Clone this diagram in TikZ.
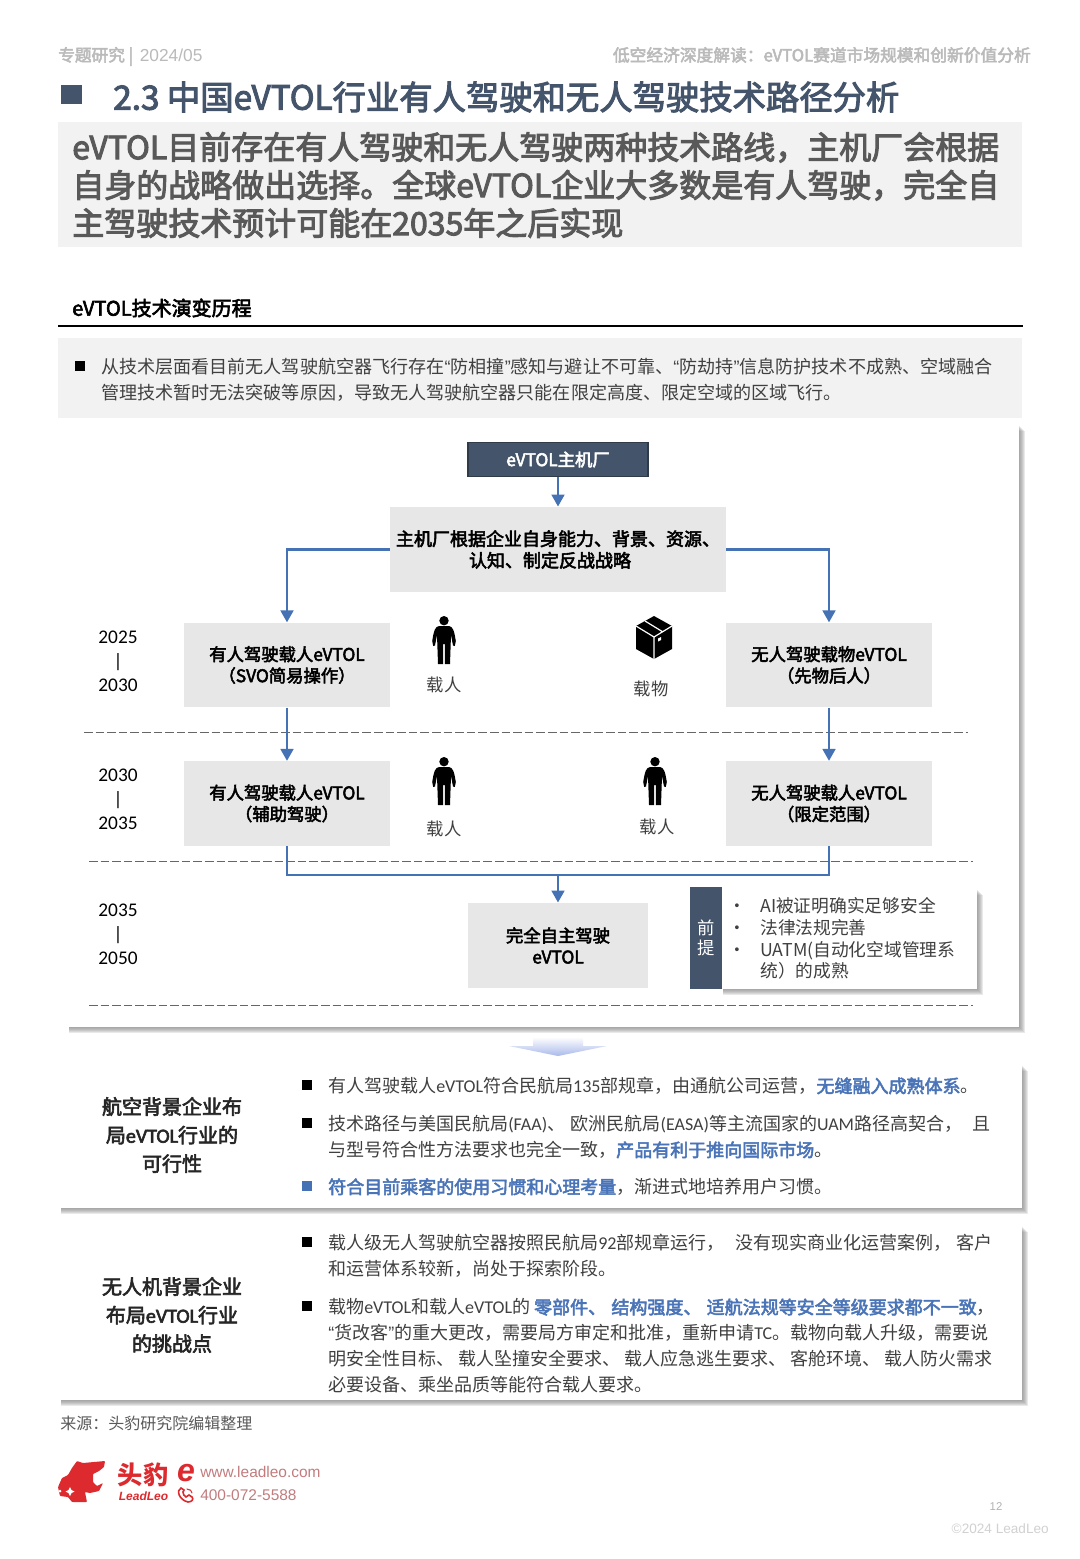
\documentclass[tikz,border=0pt]{standalone}
\usepackage{fontspec}
\setmainfont{Noto Sans CJK SC}
\newfontfamily\medfont[FakeBold=3]{Noto Sans CJK SC}
\newfontfamily\yearfont{Carlito}
\newfontfamily\sidelatin[FakeBold=3]{Carlito}
\newfontfamily\webfont{Liberation Sans}
\usepackage{tikz}
\usetikzlibrary{arrows.meta, positioning}

\definecolor{slatenavy}{HTML}{44546A}
\definecolor{flowblue}{HTML}{4472B4}
\definecolor{boxgray}{HTML}{E7E7E7}
\definecolor{panelgray}{HTML}{F2F2F2}
\definecolor{bodygray}{HTML}{404040}
\definecolor{keyblue}{HTML}{4A74B8}
\definecolor{arrowblue}{HTML}{A9B9EA}
\definecolor{logored}{HTML}{DC2A2E}
\definecolor{webred}{HTML}{C27C7E}

\newcommand{\keytxt}[1]{\textcolor{keyblue}{\medfont #1}}
\newcommand{\narrowq}[1]{{\webfont #1}}
\newcommand{\lat}[1]{{\yearfont #1}}
\newcommand{\softpanel}[4]{%
	\foreach \o in {6,5,4,3,2,1} {
		\fill[gray, opacity=0.17] (#1+1,#2+\o) rectangle (#3+\o,#4+\o);
	}
	\fill[white] (#1,#2) rectangle (#3,#4);
}

\tikzset{
	flowbox/.style={fill=boxgray, inner sep=0pt, align=center, text=black,
		font=\fontsize{13}{16}\selectfont\medfont},
	flowline/.style={draw=flowblue, line width=2pt},
	flowarrow/.style={flowline, -{Triangle[length=9pt,width=9.5pt]}},
	period/.style={dash pattern=on 6.5pt off 2.2pt, draw=bodygray!80, line width=0.6pt},
	yearlabel/.style={inner sep=0pt, align=center, text=black,
		font=\yearfont\fontsize{14.5}{18}\selectfont},
	iconlabel/.style={inner sep=0pt, text=bodygray, font=\fontsize{13}{16}\selectfont},
	bodytext/.style={anchor=west, inner sep=0pt, align=left, text=bodygray,
		font=\fontsize{13.5}{19.5}\selectfont},
	sidehead/.style={inner sep=0pt, align=center, text=black!85,
		font=\fontsize{15}{21.4}\selectfont\medfont},
	sqmark/.style={fill=black, inner sep=0pt, minimum size=7.5pt},
	personicon/.pic={
		\fill[black] (0,4.7) circle (4.7);
		\fill[black] (-5,10) -- (5,10) .. controls (9,11) and (10,14) .. (11.8,25)
			-- (10.8,30) -- (9,29.5) -- (7,19) -- (6,48) -- (0.8,48) -- (0.8,28)
			-- (-0.8,28) -- (-0.8,48) -- (-6,48) -- (-7,19) -- (-9,29.5) -- (-10.8,30)
			-- (-11.8,25) .. controls (-10,14) and (-9,11) .. (-5,10) -- cycle;
	},
	cargoicon/.pic={
		\fill[black] (0,0) -- (18,10) -- (18,33) -- (0,43) -- (-18,33) -- (-18,10) -- cycle;
		\draw[white, line width=0.9pt] (-18,10) -- (0,21) -- (18,10) (0,21) -- (0,43)
			(-9,5) -- (9,16);
		\fill[white] (4,22.5) -- (7,21) -- (7,24) -- (4,25.5) -- cycle;
	}
}

\begin{document}
\begin{tikzpicture}[x=0.75pt, y=-0.75pt]
	\useasboundingbox (0,0) rectangle (1080,1559);
	\fill[white] (0,0) rectangle (1080,1559);

	% Kopfzeile
	\node[anchor=west, inner sep=0pt, text=black!27, font=\fontsize{12.5}{15}\selectfont\medfont] (pagetag) at (58,56.5) {专题研究 |\hspace{5pt}{\webfont\fontsize{13}{15}\selectfont 2024/05}};
	\node[anchor=east, inner sep=0pt, text=black!27, font=\fontsize{12.55}{15}\selectfont\medfont] (reporttitle) at (1031,55) {低空经济深度解读：eVTOL赛道市场规模和创新价值分析};

	% Titel
	\fill[slatenavy] (61,85) rectangle (82,104);
	\node[anchor=west, inner sep=0pt, text=slatenavy, font=\fontsize{25}{30}\selectfont\medfont] (title) at (113,97) {2.3 中国eVTOL行业有人驾驶和无人驾驶技术路径分析};

	\fill[panelgray] (58,122) rectangle (1022,247);
	\node[anchor=west, inner sep=0pt, align=left, text=black!65, font=\fontsize{24}{28.5}\selectfont\medfont] (headline) at (72,185) {eVTOL目前存在有人驾驶和无人驾驶两种技术路线，主机厂会根据\\自身的战略做出选择。全球eVTOL企业大多数是有人驾驶，完全自\\主驾驶技术预计可能在2035年之后实现};

	\node[anchor=west, inner sep=0pt, text=black, font=\fontsize{15}{18}\selectfont\medfont] (sectionhead) at (72,308) {eVTOL技术演变历程};
	\draw[black, line width=2.2pt] (58,326) -- (1023,326);

	\fill[panelgray] (58,338) rectangle (1022,418);
	\node[sqmark] (introsq) at (80,366) {};
	\node[bodytext, font=\fontsize{13.55}{19.5}\selectfont] (intro) at (101,380) {从技术层面看目前无人驾驶航空器飞行存在\narrowq{“}防相撞\narrowq{”}感知与避让不可靠、\narrowq{“}防劫持\narrowq{”}信息防护技术不成熟、空域融合\\管理技术暂时无法突破等原因，导致无人驾驶航空器只能在限定高度、限定空域的区域飞行。};

	% Hauptfeld
	\softpanel{68}{425}{1019}{1027}

	\node[flowbox, fill=slatenavy, draw=slatenavy!70!black, line width=0.8pt, text=white, minimum width=135pt, minimum height=26pt] (oem) at (558,459.5) {eVTOL主机厂};
	\node[flowbox, font=\fontsize{13.5}{16.2}\selectfont\medfont, minimum width=252pt, minimum height=64pt] (strategy) at (558,549.5) {主机厂根据企业自身能力、背景、资源、\\认知、制定反战战略\hspace*{12pt}};
	\node[flowbox, minimum width=154.5pt, minimum height=63.5pt] (mannedone) at (287,665) {有人驾驶载人eVTOL\\（SVO简易操作）};
	\node[flowbox, minimum width=154.5pt, minimum height=63.5pt] (cargo) at (829,665) {无人驾驶载物eVTOL\\（先物后人）};
	\node[flowbox, minimum width=154.5pt, minimum height=63.5pt] (mannedtwo) at (287,803.5) {有人驾驶载人eVTOL\\（辅助驾驶）};
	\node[flowbox, minimum width=154.5pt, minimum height=63.5pt] (pilotless) at (829,803.5) {无人驾驶载人eVTOL\\（限定范围）};
	\node[flowbox, minimum width=135pt, minimum height=64pt] (autonomous) at (558,945.5) {完全自主驾驶\\eVTOL};
	\coordinate (merge) at (558,875);

	% Zeitraeume
	\draw[period] (84,732) -- (968,732);
	\draw[period] (89,861) -- (973,861);
	\draw[period] (89,1005) -- (973,1005);

	\foreach \a/\b/\y in {2025/2030/661,2030/2035/799,2035/2050/934} {
		\node[yearlabel] (years\a) at (118,\y) {\a\\|\\\b};
	}

	% Verbinder
	\draw[flowarrow] (oem) -- (strategy);
	\draw[flowarrow] (strategy.west) -| (mannedone.north);
	\draw[flowarrow] (strategy.east) -| (cargo.north);
	\draw[flowarrow] (mannedone) -- (mannedtwo);
	\draw[flowarrow] (cargo) -- (pilotless);
	\draw[flowline] (mannedtwo.south) |- (merge);
	\draw[flowline] (pilotless.south) |- (merge);
	\draw[flowarrow] (merge) -- (autonomous);

	% Symbole
	\pic at (444,616) {personicon};
	\pic at (444,757) {personicon};
	\pic at (655,757) {personicon};
	\pic at (654,616) {cargoicon};
	\node[iconlabel] (personone) at (444,685) {载人};
	\node[iconlabel] (goods) at (651,689) {载物};
	\node[iconlabel] (persontwo) at (444,829) {载人};
	\node[iconlabel] (personthree) at (657,827) {载人};

	% Voraussetzungen
	\softpanel{722}{889}{977}{989}
	\node[fill=slatenavy, text=white, inner sep=0pt, align=center, minimum width=24pt, minimum height=76.5pt, font=\fontsize{13}{15.5}\selectfont] (premisetag) at (706,938) {前\\提};
	\node[bodytext, font=\fontsize{13.3}{16.2}\selectfont] (premises) at (760,938.5) {\llap{•\hspace{10.5pt}}AI被证明确实足够安全\\\llap{•\hspace{10.5pt}}法律法规完善\\\llap{•\hspace{10.5pt}}UATM(自动化空域管理系\\统）的成熟};

	% Pfeil
	\shade[top color=white, bottom color=arrowblue] (533,1037) -- (583,1037) -- (583,1046) -- (607,1046) -- (558,1056) -- (509,1046) -- (533,1046) -- cycle;

	% Feld Luftfahrt
	\softpanel{60}{1065}{1022}{1208}
	\node[sidehead] (aviationhead) at (172,1135) {航空背景企业布\\局{\sidelatin eVTOL}行业的\\可行性};
	\node[sqmark] (aviationsqa) at (307,1085) {};
	\node[bodytext] (aviationa) at (328,1086) {有人驾驶载人\lat{eVTOL}符合民航局\lat{135}部规章，由通航公司运营，\keytxt{无缝融入成熟体系}。};
	\node[sqmark] (aviationsqb) at (307,1123) {};
	\node[bodytext] (aviationb) at (328,1137) {技术路径与美国民航局\lat{(FAA)}、\hspace{4pt}欧洲民航局\lat{(EASA)}等主流国家的\lat{UAM}路径高契合，\hspace{8pt}且\\与型号符合性方法要求也完全一致，\keytxt{产品有利于推向国际市场}。};
	\node[sqmark, fill=flowblue] (aviationsqc) at (307,1186) {};
	\node[bodytext] (aviationc) at (328,1187) {\keytxt{符合目前乘客的使用习惯和心理考量}，渐进式地培养用户习惯。};

	% Feld Drohnen
	\softpanel{60}{1226}{1022}{1400}
	\node[sidehead] (dronehead) at (172,1315) {无人机背景企业\\布局{\sidelatin eVTOL}行业\\的挑战点};
	\node[sqmark] (dronesqa) at (307,1242) {};
	\node[bodytext] (dronea) at (328,1256) {载人级无人驾驶航空器按照民航局\lat{92}部规章运行，\hspace{8pt}没有现实商业化运营案例，\hspace{4pt}客户\\和运营体系较新，尚处于探索阶段。};
	\node[sqmark] (dronesqb) at (307,1306) {};
	\node[bodytext] (droneb) at (328,1346) {载物\lat{eVTOL}和载人\lat{eVTOL}的\hspace{3pt}\keytxt{零部件、\hspace{4pt}结构强度、\hspace{4pt}适航法规等安全等级要求都不一致}，\\\narrowq{“}货改客\narrowq{”}的重大更改，需要局方审定和批准，重新申请\lat{TC}。载物向载人升级，需要说\\明安全性目标、\hspace{3pt}载人坠撞安全要求、\hspace{3pt}载人应急逃生要求、\hspace{3pt}客舱环境、\hspace{3pt}载人防火需求\\必要设备、乘坐品质等能符合载人要求。};

	% Fusszeile
	\node[anchor=west, inner sep=0pt, text=black!65, font=\fontsize{12}{14}\selectfont] (source) at (60,1423) {来源：头豹研究院编辑整理};

	\fill[logored, rounded corners=0.6pt] (77,1461) -- (83,1463) -- (105,1461) -- (104,1467) -- (99,1471) -- (93,1474) -- (93,1482) -- (97,1486) -- (103,1483) -- (99,1491) -- (90,1493) -- (85,1492) -- (87,1502) -- (72,1502) -- (68,1497) -- (60,1496) -- (58,1487) -- (62,1478) -- (68,1475) -- (72,1468) -- cycle;
	\fill[white] (70,1487) -- (71.5,1490) -- (74.5,1491.5) -- (71.5,1493) -- (70,1496) -- (68.5,1493) -- (65.5,1491.5) -- (68.5,1490) -- cycle;
	\fill[white] (60,1491) circle (1.5);
	\node[inner sep=0pt, text=logored, font=\fontsize{19}{22}\selectfont\bfseries] (brandcn) at (143,1475) {头豹};
	\node[inner sep=0pt, text=logored, font=\webfont\fontsize{9}{10}\selectfont\bfseries\itshape] (branden) at (143.5,1496) {LeadLeo};
	\node[inner sep=0pt, text=logored, font=\webfont\fontsize{24}{26}\selectfont\bfseries\itshape] (webicon) at (186,1473) {e};
	\draw[logored, line width=1.2pt, line cap=round] (181,1488) .. controls (176,1490) and (179,1500) .. (188,1502) .. controls (192,1502) and (194,1499) .. (192,1497) -- (189,1495) -- (186,1497) .. controls (184,1496) and (183,1494) .. (183,1492) -- (184,1490) -- cycle;
	\draw[logored, line width=0.8pt, line cap=round] (187,1489) .. controls (190,1489) and (192,1491) .. (192,1493);
	\node[anchor=west, inner sep=0pt, text=webred, font=\webfont\fontsize{11.6}{14}\selectfont] (website) at (200,1472) {www.leadleo.com};
	\node[anchor=west, inner sep=0pt, text=webred, font=\webfont\fontsize{11.6}{14}\selectfont] (phone) at (200,1495) {400-072-5588};

	\node[inner sep=0pt, text=black!30, font=\webfont\fontsize{8.5}{10}\selectfont] (pagenum) at (996,1507) {12};
	\node[anchor=east, inner sep=0pt, text=black!18, font=\webfont\fontsize{10.2}{12}\selectfont] (copyright) at (1049,1529) {©2024 LeadLeo};
\end{tikzpicture}
\end{document}
